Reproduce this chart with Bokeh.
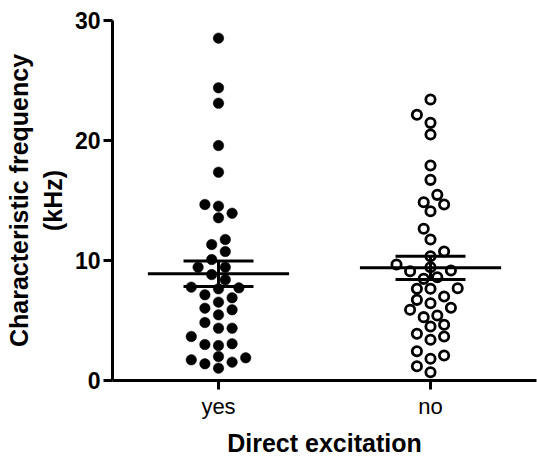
import numpy as np
from bokeh.plotting import figure
from bokeh.models import Range1d, FixedTicker
from bokeh.embed import file_html
from bokeh.resources import INLINE

# ---- data ----
categories = ["yes", "no"]
yes_values = [28.53, 24.39, 23.11, 19.58, 17.36, 14.53, 13.56, 13.94, 14.67,
              11.75, 11.33, 10.75, 10.08, 9.44, 9.44, 8.83, 8.39, 7.78, 7.64,
              7.72, 6.53, 6.89, 7.14, 5.89, 5.47, 6.03, 4.83, 4.36, 4.36, 3.67,
              3.06, 2.92, 3.00, 1.89, 1.53, 1.03, 1.39, 1.72, 2.00]
no_values = [23.42, 22.14, 21.47, 20.50, 17.92, 16.72, 15.47, 14.67, 14.86,
             14.11, 12.64, 11.75, 10.75, 10.36, 9.44, 9.67, 9.11, 9.17, 8.47,
             8.61, 7.64, 7.64, 7.69, 7.00, 6.72, 6.44, 5.89, 6.06, 5.28, 5.42,
             4.64, 4.50, 3.89, 3.39, 3.67, 2.44, 1.81, 2.08, 1.19, 0.69]
group_means = [8.89, 9.39]
group_sem = [1.06, 0.97]
y_ticks = [0, 10, 20, 30]

# ---- layout ----
W, H = 537, 464
LEFT, RIGHT, TOP, BOTTOM = 112, 1, 20, 84
X0, X1 = 0.5, 2.5
Y0, Y1 = 0, 30
px_x = (W - LEFT - RIGHT) / (X1 - X0)
px_y = (H - TOP - BOTTOM) / (Y1 - Y0)


def swarm(values, step=6.8, dmin=11.0):
    vals = np.asarray(values, dtype=float)
    order = np.argsort(vals)
    placed = []
    offs = np.zeros(len(vals))
    flip = 1
    for i in order:
        y = vals[i] * px_y
        chosen = None
        for k in range(0, 60):
            cands = [0.0] if k == 0 else [-flip * k * step, flip * k * step]
            for x in cands:
                if all((x - qx) ** 2 + (y - qy) ** 2 >= dmin ** 2 for qx, qy in placed):
                    chosen = x
                    break
            if chosen is not None:
                break
        if chosen != 0:
            flip = -flip
        placed.append((chosen, y))
        offs[i] = chosen / px_x
    return offs


p = figure(width=W, height=H, output_backend="svg", toolbar_location=None,
           x_range=Range1d(X0, X1), y_range=Range1d(Y0, Y1),
           min_border_left=LEFT, min_border_right=RIGHT,
           min_border_top=TOP, min_border_bottom=BOTTOM)
p.outline_line_color = None
p.grid.visible = False
p.background_fill_color = "white"
p.border_fill_color = "white"

xs = [1, 2]
yes_x = 1 + swarm(yes_values)
no_x = 2 + swarm(no_values)

p.scatter(x=yes_x, y=yes_values, size=10.5, fill_color="black",
          line_color="black", line_width=0.5)
p.scatter(x=no_x, y=no_values, size=9.3, fill_color="white",
          line_color="black", line_width=2.8)

# mean and SEM
means = np.array(group_means)
sems = np.array(group_sem)
xs_a = np.array(xs, dtype=float)
p.segment(x0=xs_a - 0.333, x1=xs_a + 0.333, y0=means, y1=means,
          line_color="black", line_width=3)
p.segment(x0=xs_a - 0.165, x1=xs_a + 0.165, y0=means + sems, y1=means + sems,
          line_color="black", line_width=3)
p.segment(x0=xs_a - 0.165, x1=xs_a + 0.165, y0=means - sems, y1=means - sems,
          line_color="black", line_width=3)
p.segment(x0=xs_a, x1=xs_a, y0=means - sems, y1=means + sems,
          line_color="black", line_width=3)

FONT = "Liberation Sans"
for ax in (p.xaxis[0], p.yaxis[0]):
    ax.axis_line_width = 3
    ax.axis_line_color = "black"
    ax.major_tick_line_width = 3
    ax.major_tick_line_color = "black"
    ax.major_tick_out = 9
    ax.major_tick_in = 0
    ax.minor_tick_line_color = None
    ax.major_label_text_font = FONT
    ax.major_label_text_font_size = "22px"
    ax.major_label_text_color = "black"
    ax.axis_label_text_font = FONT
    ax.axis_label_text_font_size = "25px"
    ax.axis_label_text_font_style = "bold"
    ax.axis_label_text_color = "black"

p.xaxis.ticker = FixedTicker(ticks=xs)
p.xaxis.major_label_overrides = {x: c for x, c in zip(xs, categories)}
p.xaxis.major_label_standoff = 4
p.xaxis.axis_label = "Direct excitation"
p.xaxis.axis_label_standoff = 7

p.yaxis.ticker = FixedTicker(ticks=y_ticks)
p.yaxis.major_label_text_font_style = "bold"
p.yaxis.major_label_text_font_size = "23px"
p.yaxis.major_label_standoff = 3
p.yaxis.axis_label = "Characteristic frequency\n(kHz)"
p.yaxis.axis_label_standoff = 5

open("out.html", "w").write(file_html(p, INLINE))
